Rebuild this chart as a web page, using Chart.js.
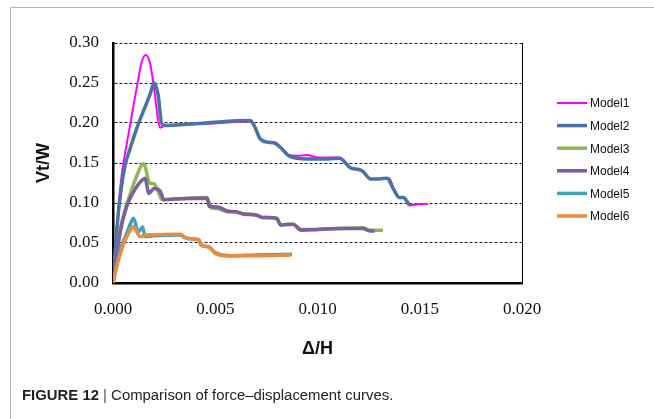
<!DOCTYPE html>
<html>
<head>
<meta charset="utf-8">
<script src="https://cdn.jsdelivr.net/npm/chart.js@4.4.0/dist/chart.umd.min.js"></script>
<style>
  body { margin: 0; background: #fff; }
  #frame { position: absolute; left: 10px; top: 7px; width: 650px; height: 420px;
           border-left: 1px solid #b4b4b4; border-top: 1px solid #b4b4b4; }
  #wrap { position: absolute; left: 0; top: 0; width: 654px; height: 419px; }
  #caption { position: absolute; left: 22px; top: 387px; white-space: nowrap;
             font: 14.9px 'Liberation Sans', Arial, sans-serif; color: #222; }
  #caption b { font-weight: bold; }
  #caption span { color: #555; }
</style>
</head>
<body>
<div id="frame"></div>
<div id="wrap"><canvas id="mychart" width="654" height="419"></canvas></div>
<div id="caption"><b>FIGURE 12</b> <span>|</span> Comparison of force–displacement curves.</div>
<script>

// values (Δ/H, Vt/W)
var model1X = [0, 0.0002, 0.0004, 0.0007, 0.0009, 0.0012, 0.0014, 0.0016, 0.0018, 0.0020, 0.0022, 0.0023, 0.0025, 0.0045, 0.0067, 0.0069, 0.0072, 0.0076, 0.0079, 0.0082, 0.0086, 0.0090, 0.0095, 0.0100, 0.0105, 0.0111, 0.0113, 0.0116, 0.0120, 0.0122, 0.0126, 0.0130, 0.0135, 0.0137, 0.0140, 0.0142, 0.0145, 0.0148, 0.0154];
var model1Y = [0, 0.075, 0.130, 0.178, 0.207, 0.250, 0.276, 0.285, 0.276, 0.245, 0.205, 0.194, 0.196, 0.199, 0.202, 0.196, 0.180, 0.176, 0.176, 0.170, 0.160, 0.159, 0.160, 0.157, 0.157, 0.157, 0.152, 0.144, 0.142, 0.140, 0.130, 0.130, 0.131, 0.120, 0.107, 0.107, 0.097, 0.098, 0.099];

var model2X = [0, 0.0002, 0.0004, 0.0006, 0.0008, 0.0012, 0.0016, 0.0018, 0.00202, 0.0022, 0.0024, 0.0026, 0.0045, 0.0067, 0.0069, 0.0072, 0.0076, 0.0079, 0.0082, 0.0086, 0.0090, 0.0095, 0.0100, 0.0105, 0.0111, 0.0113, 0.0116, 0.0120, 0.0122, 0.0126, 0.0130, 0.0134, 0.0137, 0.0140, 0.0142, 0.0145];
var model2Y = [0, 0.070, 0.118, 0.148, 0.165, 0.196, 0.222, 0.235, 0.250, 0.236, 0.198, 0.197, 0.200, 0.203, 0.197, 0.180, 0.176, 0.175, 0.169, 0.159, 0.156, 0.155, 0.155, 0.155, 0.156, 0.152, 0.144, 0.142, 0.140, 0.130, 0.130, 0.131, 0.118, 0.107, 0.107, 0.097];

var model3X = [0, 0.0002, 0.0004, 0.0006, 0.0008, 0.0011, 0.0015, 0.0018, 0.0020, 0.0022, 0.0024, 0.0030, 0.0046, 0.0048, 0.0051, 0.0056, 0.0060, 0.0063, 0.0070, 0.0073, 0.0080, 0.0082, 0.0088, 0.0092, 0.0100, 0.0110, 0.0122, 0.0126, 0.0132];
var model3Y = [0, 0.040, 0.072, 0.092, 0.108, 0.130, 0.149, 0.125, 0.124, 0.115, 0.104, 0.105, 0.107, 0.094, 0.093, 0.089, 0.089, 0.087, 0.085, 0.082, 0.081, 0.0725, 0.0735, 0.067, 0.067, 0.068, 0.069, 0.066, 0.066];

var model4X = [0, 0.0002, 0.0004, 0.0006, 0.0008, 0.0011, 0.0014, 0.00156, 0.00176, 0.0020, 0.0023, 0.0025, 0.0030, 0.0046, 0.0047, 0.0051, 0.0056, 0.0060, 0.0064, 0.0070, 0.0073, 0.0080, 0.0082, 0.0088, 0.0092, 0.0100, 0.0110, 0.0122, 0.0126, 0.0128];
var model4Y = [0, 0.040, 0.070, 0.090, 0.104, 0.118, 0.128, 0.131, 0.112, 0.118, 0.115, 0.104, 0.105, 0.106, 0.096, 0.095, 0.090, 0.089, 0.086, 0.085, 0.082, 0.081, 0.0725, 0.0735, 0.066, 0.067, 0.068, 0.068, 0.065, 0.065];

var model5X = [0, 0.0002, 0.0004, 0.00067, 0.0009, 0.0010, 0.00124, 0.00145, 0.00156, 0.0020, 0.0033, 0.0035, 0.0039, 0.0042, 0.0043, 0.0047, 0.0050, 0.0057, 0.0070, 0.00875];
var model5Y = [0, 0.025, 0.045, 0.062, 0.077, 0.081, 0.064, 0.070, 0.058, 0.059, 0.060, 0.057, 0.055, 0.054, 0.048, 0.045, 0.038, 0.034, 0.035, 0.036];

var model6X = [0, 0.0002, 0.0004, 0.0006, 0.0008, 0.0010, 0.00132, 0.0016, 0.0033, 0.0035, 0.0039, 0.0042, 0.0043, 0.0047, 0.0050, 0.0057, 0.0070, 0.0087];
var model6Y = [0, 0.022, 0.040, 0.054, 0.064, 0.0705, 0.058, 0.060, 0.061, 0.057, 0.055, 0.054, 0.0475, 0.045, 0.037, 0.034, 0.034, 0.035];

var seriesNames = ['Model1', 'Model2', 'Model3', 'Model4', 'Model5', 'Model6'];
var xTicks = [0, 0.005, 0.010, 0.015, 0.020];
var yTicks = [0, 0.05, 0.10, 0.15, 0.20, 0.25, 0.30];

var seriesX = [model1X, model2X, model3X, model4X, model5X, model6X];
var seriesY = [model1Y, model2Y, model3Y, model4Y, model5Y, model6Y];
var colors = ['#FF00FF', '#4A72A8', '#93B455', '#7B5E9F', '#42A2BE', '#EC8A3E'];
var widths = [2, 3.5, 3.5, 3.5, 3.5, 3.5];

var datasets = [];
for (var i = 0; i < seriesNames.length; i++)
{
	var pts = [];
	for (var j = 0; j < seriesX[i].length; j++)
		pts.push({ x: seriesX[i][j], y: seriesY[i][j] });

	datasets.push({
		label: seriesNames[i],
		data: pts,
		borderColor: colors[i],
		backgroundColor: colors[i],
		borderWidth: widths[i],
		pointRadius: 0,
		cubicInterpolationMode: 'monotone',
		order: seriesNames.length - i   // later models on top, as in the original
	});
}

// legend drawn at the right of the plot, line sample + name
const sideLegend = {
	id: 'sideLegend',
	afterDraw(chart) {
		const ctx = chart.ctx;
		const area = chart.chartArea;
		ctx.save();
		ctx.font = '12px "Liberation Sans", Arial, sans-serif';
		ctx.textBaseline = 'middle';
		chart.data.datasets.forEach(function (ds, k) {
			var y = area.top + 60 + k * 22.6;
			var x = area.right + 35;
			ctx.strokeStyle = ds.borderColor;
			ctx.lineWidth = ds.borderWidth;
			ctx.beginPath();
			ctx.moveTo(x, y);
			ctx.lineTo(x + 30, y);
			ctx.stroke();
			ctx.fillStyle = '#111';
			ctx.fillText(ds.label, x + 33, y + 1);
		});
		ctx.restore();
	}
};

const tickFont = { family: '"Liberation Serif", "Times New Roman", serif', size: 17 };
const titleFont = { family: '"Liberation Sans", Arial, sans-serif', size: 18, weight: 'bold' };

const config = {
	type: 'line',
	data: { datasets: datasets },
	plugins: [sideLegend],
	options: {
		responsive: false,
		animation: false,
		layout: { padding: { left: 0, top: 43, right: 132, bottom: 56 } },
		plugins: {
			legend: { display: false },
			tooltip: { enabled: false }
		},
		scales: {
			x: {
				type: 'linear',
				min: 0,
				max: 0.02,
				afterFit: function (s) { s.height = 80; },
				afterBuildTicks: function (s) { s.ticks = xTicks.map(function (v) { return { value: v }; }); },
				ticks: {
					color: '#111',
					font: tickFont,
					padding: 16,
					maxRotation: 0,
					callback: function (v) { return v.toFixed(3); }
				},
				grid: {
					drawTicks: false,
					lineWidth: 1,
					color: function (c) { return c.tick && c.tick.value === 0.02 ? '#000' : 'rgba(0,0,0,0)'; }
				},
				border: { color: '#000', width: 2.5 },
				title: { display: true, text: 'Δ/H', color: '#111', font: titleFont, padding: { top: 0, bottom: 3 } }
			},
			y: {
				min: 0,
				max: 0.3,
				afterFit: function (s) { s.width = 113; },
				afterBuildTicks: function (s) { s.ticks = yTicks.map(function (v) { return { value: v }; }); },
				ticks: {
					color: '#111',
					font: tickFont,
					padding: 14,
					callback: function (v) { return v.toFixed(2); }
				},
				grid: {
					drawTicks: false,
					lineWidth: 1,
					color: function (c) { return c.tick && c.tick.value === 0 ? 'rgba(0,0,0,0)' : '#222'; }
				},
				border: { color: '#000', width: 2.5, dash: [3, 2] },
				title: { display: true, text: 'Vt/W', color: '#111', font: titleFont, padding: { top: 33, bottom: 0 } }
			}
		}
	}
};

const myChart = new Chart(document.getElementById('mychart').getContext('2d'), config);
</script>
</body>
</html>
